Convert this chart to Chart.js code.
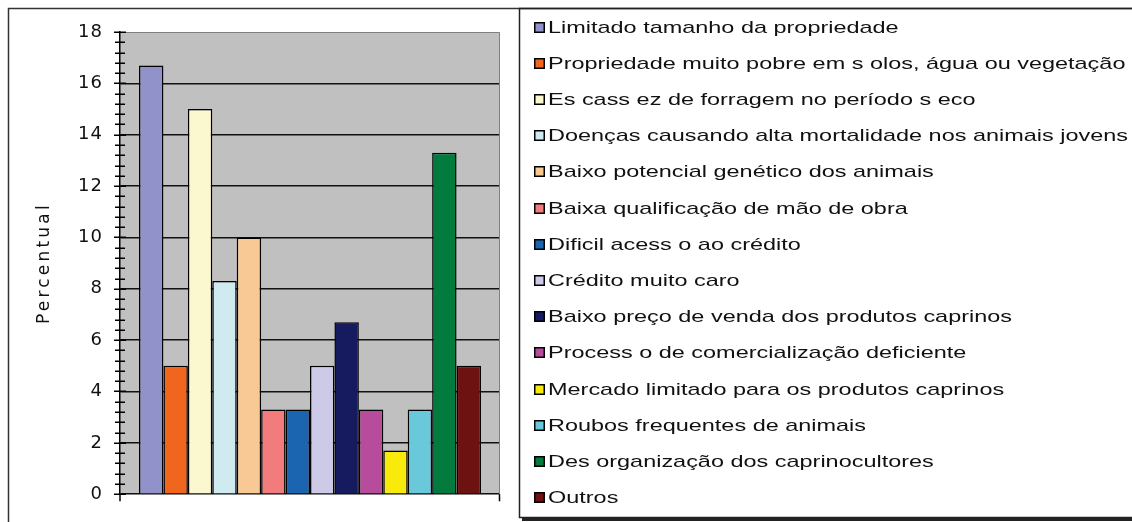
<!DOCTYPE html>
<html><head><meta charset="utf-8">
<script src="https://cdn.jsdelivr.net/npm/chart.js@4.4.1/dist/chart.umd.min.js"></script>
<style>html,body{margin:0;padding:0;background:#fff;}canvas{display:block;}</style>
</head><body>
<canvas id="c" width="1132" height="522"></canvas>
<script>
const categories = [''];
const seriesLabels = [
  'Limitado tamanho da propriedade',
  'Propriedade muito pobre em s olos, água ou vegetação',
  'Es cass ez de forragem no período s eco',
  'Doenças causando alta mortalidade nos animais jovens',
  'Baixo potencial genético dos animais',
  'Baixa qualificação de mão de obra',
  'Dificil acess o ao crédito',
  'Crédito muito caro',
  'Baixo preço de venda dos produtos caprinos',
  'Process o de comercialização deficiente',
  'Mercado limitado para os produtos caprinos',
  'Roubos frequentes de animais',
  'Des organização dos caprinocultores',
  'Outros'
];
const seriesValues = [16.7, 5.0, 15.0, 8.3, 10.0, 3.3, 3.3, 5.0, 6.7, 3.3, 1.7, 3.3, 13.3, 5.0];
const seriesColors = ['#9292CB','#F0661E','#FBF7CF','#CFEBF0','#F9C995','#F27B7B','#1A64B0',
                      '#CCCAE6','#161A5E','#B84C9C','#F8EA0A','#6AC8DB','#037B3F','#6E1111'];
const yTickValues = [0, 2, 4, 6, 8, 10, 12, 14, 16, 18];
const yTitle = 'Percentual';

const MINOR_STEP = 0.4;
const TEXT = '#111111';
const AXIS_FONT = '"DejaVu Sans", Verdana, sans-serif';

const decor = {
  id: 'decor',
  beforeDraw(chart) {
    const {ctx, chartArea: a} = chart;
    ctx.save();
    ctx.fillStyle = '#fff';
    ctx.fillRect(0, 0, chart.width, chart.height);
    ctx.fillStyle = '#C0C0C0';
    ctx.fillRect(a.left, a.top, a.right - a.left, a.bottom - a.top);
    ctx.restore();
    ctx.letterSpacing = '3.2px';
  },
  afterDatasetsDraw(chart) {
    chart.ctx.letterSpacing = '1px';
  },
  afterDraw(chart) {
    const {ctx, chartArea: a} = chart;
    const y = chart.scales.y;
    ctx.letterSpacing = '0px';
    ctx.save();
    ctx.strokeStyle = '#808080';
    ctx.lineWidth = 1;
    ctx.beginPath();
    ctx.moveTo(a.left, a.top + 0.5); ctx.lineTo(a.right - 0.5, a.top + 0.5); ctx.lineTo(a.right - 0.5, a.bottom);
    ctx.stroke();
    ctx.strokeStyle = '#000';
    ctx.lineWidth = 1.5;
    const n = Math.round((y.max - y.min) / MINOR_STEP);
    for (let i = 0; i <= n; i++) {
      const v = y.min + i * MINOR_STEP;
      const py = Math.round(y.getPixelForValue(v)) + 0.25;
      const major = i % 5 === 0;
      ctx.beginPath();
      ctx.moveTo(a.left - (major ? 6 : 5), py);
      ctx.lineTo(a.left + (major ? 6 : 5), py);
      ctx.stroke();
    }
    ctx.beginPath();
    ctx.moveTo(a.left, a.bottom); ctx.lineTo(a.left, a.bottom + 7);
    ctx.moveTo(a.right - 0.5, a.bottom); ctx.lineTo(a.right - 0.5, a.bottom + 7);
    ctx.stroke();
    ctx.strokeStyle = '#333';
    ctx.lineWidth = 1.5;
    ctx.strokeRect(8.5, 8.5, 2000, 2000);
    ctx.strokeStyle = '#222';
    ctx.lineWidth = 1.5;
    ctx.strokeRect(519.5, 8.5, 1000, 509);
    ctx.fillStyle = '#222';
    ctx.fillRect(522, 518, 1000, 3);
    ctx.font = '17px "Liberation Sans", Arial, sans-serif';
    ctx.textBaseline = 'middle';
    ctx.textAlign = 'left';
    const ref = seriesLabels[3];
    const w0 = ctx.measureText(ref).width;
    const sx = 580 / w0;
    chart.data.datasets.forEach((ds, i) => {
      const cy = Math.round(26.5 + i * 36.2);
      ctx.fillStyle = ds.backgroundColor;
      ctx.fillRect(534, cy - 5, 11, 11);
      ctx.strokeStyle = '#000';
      ctx.lineWidth = 1.5;
      ctx.strokeRect(534.75, cy - 4.25, 9.5, 9.5);
      ctx.save();
      ctx.translate(548, cy + 1);
      ctx.scale(sx, 1);
      ctx.fillStyle = TEXT;
      ctx.fillText(ds.label, 0, 0);
      ctx.restore();
    });
    ctx.restore();
  }
};

const datasets = seriesLabels.map((lab, i) => ({
  label: lab,
  data: [seriesValues[i]],
  backgroundColor: seriesColors[i],
  borderColor: '#000',
  borderWidth: 1.5,
  categoryPercentage: 0.9,
  barPercentage: 1.0
}));

new Chart(document.getElementById('c'), {
  type: 'bar',
  data: { labels: categories, datasets },
  options: {
    responsive: false,
    animation: false,
    devicePixelRatio: 1,
    layout: { padding: { left: 0, top: 32, right: 632, bottom: 16 } },
    plugins: { legend: { display: false }, tooltip: { enabled: false } },
    scales: {
      x: { display: false },
      y: {
        min: 0, max: 18,
        afterBuildTicks: s => { s.ticks = yTickValues.map(v => ({ value: v })); },
        afterFit: s => { s.width = 120; },
        ticks: {
          z: 1,
          color: TEXT,
          font: { family: AXIS_FONT, size: 18 },
          padding: 17,
          callback: v => String(v)
        },
        grid: {
          drawTicks: false,
          color: ctx => ctx.tick && ctx.tick.value === 18 ? 'rgba(0,0,0,0)' : '#111',
          lineWidth: 1.5
        },
        border: { display: true, color: '#000', width: 1.5 },
        title: {
          display: true,
          text: yTitle,
          color: TEXT,
          font: { family: AXIS_FONT, size: 17 },
          padding: { top: 34, bottom: 0 }
        }
      }
    }
  },
  plugins: [decor]
});
</script>
</body></html>
